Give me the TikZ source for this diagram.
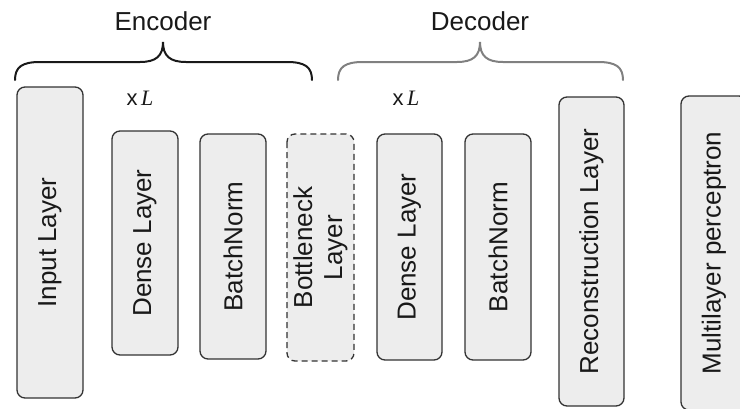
\documentclass[tikz,border=0pt]{standalone}
\usepackage{fontspec}
\setmainfont{Liberation Sans}
\newfontfamily\serifit{Liberation Serif}
\begin{document}
\begin{tikzpicture}[x=1pt,y=-1pt,
  layer/.style={draw=black!80, fill=black!7, line width=1.3pt, rounded corners=8pt,
    inner sep=0pt, rotate=90, font=\fontsize{26}{30}\selectfont, text=black!90, align=center},
  dashedlayer/.style={layer, dash pattern=on 6pt off 4pt},
  brace/.style={line width=2pt, line cap=round},
  title/.style={font=\fontsize{26}{30}\selectfont, text=black!90},
  rep/.style={font=\fontsize{22}{24}\selectfont, text=black!90}
  ]
\useasboundingbox (0,0) rectangle (740,408);
\clip (0,0) rectangle (740,408);
\node[layer, minimum width=311pt, minimum height=66pt] (input) at (50,242.5) {Input Layer};
\node[layer, minimum width=224pt, minimum height=66pt] (dense1) at (145,243) {Dense Layer};
\node[layer, minimum width=225pt, minimum height=66pt] (bn1) at (233,246.5) {BatchNorm};
\node[dashedlayer, minimum width=227pt, minimum height=67pt] (bottle) at (320.5,247.5) {Bottleneck\\Layer};
\node[layer, minimum width=226pt, minimum height=65pt] (dense2) at (409.5,247) {Dense Layer};
\node[layer, minimum width=226pt, minimum height=66pt] (bn2) at (498,247) {BatchNorm};
\node[layer, minimum width=309pt, minimum height=65pt] (recon) at (591.5,251.5) {Reconstruction Layer};
\node[layer, minimum width=314pt, minimum height=66pt] (mlp) at (714,253) {Multilayer perceptron};
% braces
\draw[brace, black!90] (15,80) .. controls (15,67) and (22,62) .. (40,62) -- (140,62)
  .. controls (156,62) and (163,56) .. (163,42)
  .. controls (163,56) and (170,62) .. (186,62) -- (287,62)
  .. controls (305,62) and (312,67) .. (312,80);
\draw[brace, black!50] (338,80) .. controls (338,67) and (345,62) .. (363,62) -- (457,62)
  .. controls (473,62) and (480,56) .. (480,42)
  .. controls (480,56) and (487,62) .. (503,62) -- (598,62)
  .. controls (616,62) and (623,67) .. (623,80);
\node[title] (enc) at (163,21) {Encoder};
\node[title] (dec) at (480,21) {Decoder};
\node[rep] (rep1) at (140,98) {x\,{\serifit\itshape L}};
\node[rep] (rep2) at (406,98) {x\,{\serifit\itshape L}};
\end{tikzpicture}
\end{document}
